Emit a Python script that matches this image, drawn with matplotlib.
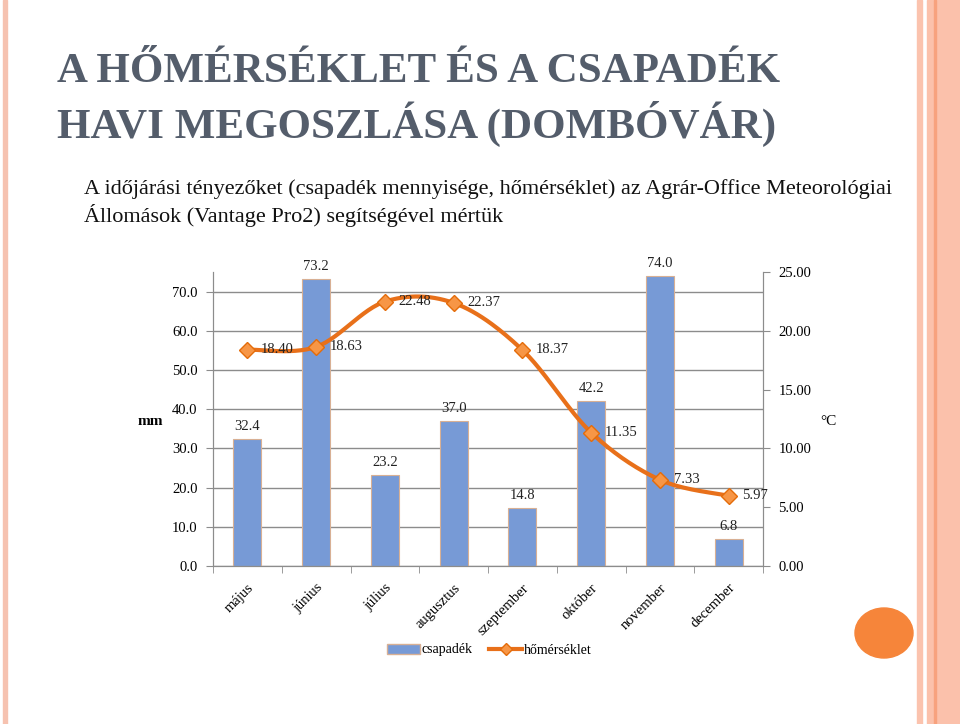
import numpy as np
import matplotlib
matplotlib.use("Agg")
from matplotlib import pyplot as plt
from matplotlib.patches import Rectangle, Ellipse
from matplotlib.lines import Line2D
from matplotlib.patches import Patch

# data
honapok = ["május", "június", "július", "augusztus", "szeptember",
           "október", "november", "december"]
csapadek = [32.4, 73.2, 23.2, 37.0, 14.8, 42.2, 74.0, 6.8]
homerseklet = [18.40, 18.63, 22.48, 22.37, 18.37, 11.35, 7.33, 5.97]

plt.rcParams['font.family'] = ['Liberation Serif', 'DejaVu Serif']

BAR = '#779AD6'
ORANGE = '#E8701A'
GRID = '#8C8C8C'
FS = 10.5


def catmull_rom(x, y, n=30):
    # smooth curve like Excel's "smoothed line"
    px = np.concatenate([[x[0]], x, [x[-1]]])
    py = np.concatenate([[y[0]], y, [y[-1]]])
    xs, ys = [], []
    t = np.linspace(0, 1, n)
    for i in range(1, len(px) - 2):
        for p, out in ((px, xs), (py, ys)):
            p0, p1, p2, p3 = p[i - 1], p[i], p[i + 1], p[i + 2]
            out.extend(0.5 * (2 * p1 + (-p0 + p2) * t
                              + (2 * p0 - 5 * p1 + 4 * p2 - p3) * t ** 2
                              + (-p0 + 3 * p1 - 3 * p2 + p3) * t ** 3))
    return np.array(xs), np.array(ys)


fig = plt.figure(figsize=(9.6, 7.24), dpi=100)

# slide decoration
fig.patches.append(Rectangle((3 / 960, 0), 4 / 960, 1, transform=fig.transFigure,
                             color='#F6C2B0', zorder=0))
fig.patches.append(Rectangle((917 / 960, 0), 5 / 960, 1, transform=fig.transFigure,
                             color='#FBC3AE', zorder=0))
fig.patches.append(Rectangle((927 / 960, 0), 33 / 960, 1, transform=fig.transFigure,
                             color='#FBC1AB', zorder=0))
fig.patches.append(Rectangle((934 / 960, 0), 2 / 960, 1, transform=fig.transFigure,
                             color='#F7A27E', zorder=0))
fig.patches.append(Ellipse((884 / 960, 1 - 633 / 724), 58 / 960, 50 / 724,
                           transform=fig.transFigure, color='#F6853A', zorder=0))

fig.text(57 / 960, 1 - 72 / 724, "A HŐMÉRSÉKLET ÉS A CSAPADÉK", fontsize=31,
         fontweight='bold', color='#545D6B', va='center')
fig.text(57 / 960, 1 - 124 / 724, "HAVI MEGOSZLÁSA (DOMBÓVÁR)", fontsize=31,
         fontweight='bold', color='#545D6B', va='center')
fig.text(84 / 960, 1 - 189 / 724,
         "A időjárási tényezőket (csapadék mennyisége, hőmérséklet) az Agrár-Office Meteorológiai",
         fontsize=16, color='#111111', va='center')
fig.text(84 / 960, 1 - 215 / 724,
         "Állomások (Vantage Pro2) segítségével mértük",
         fontsize=16, color='#111111', va='center')

ax = fig.add_axes([213 / 960, 1 - 566 / 724, 550 / 960, 294 / 724])
ax2 = ax.twinx()

x = np.arange(len(honapok))
ax.bar(x, csapadek, width=0.41, color=BAR, edgecolor='#D8B094', linewidth=0.8, zorder=2)
for xi, v in zip(x, csapadek):
    ax.text(xi, v + 1.5, f"{v:.1f}", ha='center', va='bottom', fontsize=FS, color='#222222')

ax.set_xlim(-0.5, len(honapok) - 0.5)
ax.set_ylim(0, 75)
ax.set_yticks(np.arange(0, 71, 10))
ax.set_yticklabels([f"{v:.1f}" for v in np.arange(0, 71, 10)], fontsize=FS)
ax.yaxis.grid(True, color=GRID, linewidth=1, zorder=0)
ax.set_axisbelow(True)

ax.set_xticks(x)
ax.set_xticklabels(honapok, rotation=45, ha='right', va='top',
                   rotation_mode='anchor', fontsize=FS)
ax.set_xticks(np.arange(-0.5, len(honapok), 1), minor=True)
ax.tick_params(axis='x', which='major', length=0, pad=11)
ax.tick_params(axis='x', which='minor', length=5, color=GRID)
ax.tick_params(axis='y', length=5, color=GRID, pad=6)

for s in ['top']:
    ax.spines[s].set_visible(False)
    ax2.spines[s].set_visible(False)
for a in (ax, ax2):
    for s in ['left', 'right', 'bottom']:
        a.spines[s].set_color(GRID)

ax2.set_ylim(0, 25)
ax2.set_yticks(np.arange(0, 26, 5))
ax2.set_yticklabels([f"{v:.2f}" for v in np.arange(0, 26, 5)], fontsize=FS)
ax2.tick_params(axis='y', length=5, color=GRID, pad=6)

sx, sy = catmull_rom(x.astype(float), np.array(homerseklet))
ax2.plot(sx, sy, color=ORANGE, linewidth=3, zorder=3, solid_capstyle='round')
ax2.plot(x, homerseklet, linestyle='none', marker='D', markersize=8,
         markerfacecolor='#F79646', markeredgecolor='#E46C0A', zorder=4)
for xi, v in zip(x, homerseklet):
    ax2.text(xi + 0.2, v, f"{v:.2f}", ha='left', va='center', fontsize=FS, color='#222222')

fig.text(150 / 960, 1 - 421 / 724, "mm", fontsize=11, fontweight='bold', ha='center', va='center')
fig.text(828 / 960, 1 - 421 / 724, "°C", fontsize=11, ha='center', va='center')

handles = [Patch(facecolor=BAR, edgecolor='#D8B094'),
           Line2D([], [], color=ORANGE, linewidth=3, marker='D', markersize=6,
                  markerfacecolor='#F79646', markeredgecolor='#E46C0A')]
fig.legend(handles, ["csapadék", "hőmérséklet"], loc='center',
           bbox_to_anchor=(489 / 960, 1 - 650 / 724), ncol=2, frameon=False,
           fontsize=10, handlelength=2.4, handletextpad=0.1, columnspacing=1.2)

fig.savefig("out.png", dpi=100)
